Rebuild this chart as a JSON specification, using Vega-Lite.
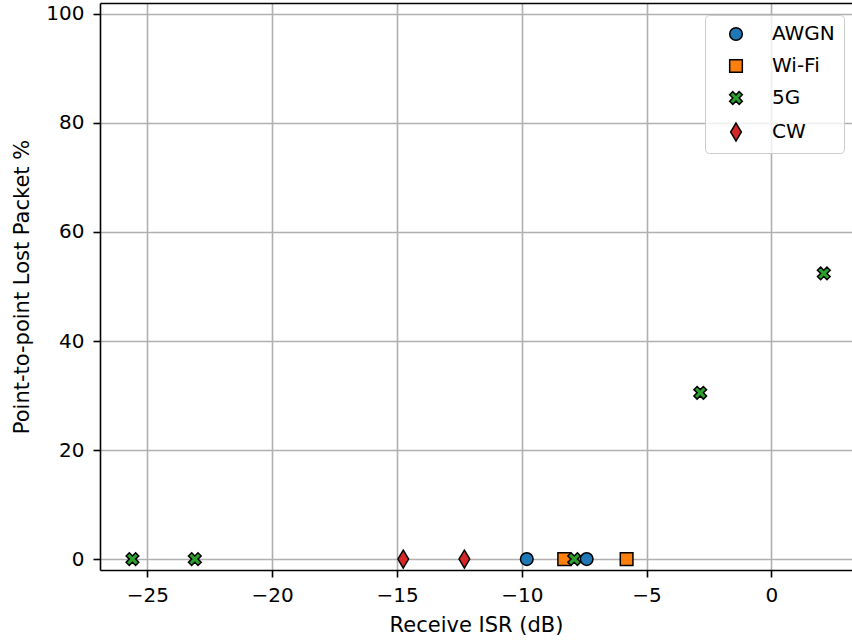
{
  "$schema": "https://vega.github.io/schema/vega-lite/v6.json",
  "width": 752,
  "height": 567,
  "autosize": {"type": "none"},
  "padding": {"left": 100, "top": 3, "right": 0, "bottom": 72},
  "background": "white",
  "config": {
    "view": {"stroke": null},
    "font": "DejaVu Sans",
    "axis": {
      "domainColor": "black",
      "domainWidth": 1.6,
      "tickColor": "black",
      "tickWidth": 1.6,
      "tickSize": 7,
      "labelFont": "DejaVu Sans",
      "labelFontSize": 20,
      "labelColor": "black",
      "labelPadding": 8,
      "titleFont": "DejaVu Sans",
      "titleFontSize": 21,
      "titleFontWeight": "normal",
      "titleColor": "black",
      "gridColor": "#b0b0b0",
      "gridWidth": 1.6
    },
    "axisX": {"titlePadding": 9},
    "axisY": {"titlePadding": 13, "labelPadding": 9},
    "legend": {
      "orient": "none",
      "legendX": 605,
      "legendY": 12,
      "padding": 9,
      "symbolOffset": 12,
      "labelOffset": 26,
      "rowPadding": 12,
      "labelFont": "DejaVu Sans",
      "labelFontSize": 20,
      "labelColor": "black",
      "symbolSize": 160,
      "symbolStrokeColor": "black",
      "symbolStrokeWidth": 1.5,
      "symbolOpacity": 1,
      "strokeColor": "#cccccc",
      "strokeWidth": 1,
      "fillColor": "rgba(255,255,255,0.8)",
      "cornerRadius": 4
    }
  },
  "data": {
    "values": [
      {"signal": "AWGN", "isr": -9.8, "loss": 0},
      {"signal": "AWGN", "isr": -7.4, "loss": 0},
      {"signal": "Wi-Fi", "isr": -8.3, "loss": 0},
      {"signal": "Wi-Fi", "isr": -5.8, "loss": 0},
      {"signal": "5G", "isr": -25.6, "loss": 0},
      {"signal": "5G", "isr": -23.1, "loss": 0},
      {"signal": "5G", "isr": -7.9, "loss": 0},
      {"signal": "5G", "isr": -2.85, "loss": 30.5},
      {"signal": "5G", "isr": 2.1, "loss": 52.4},
      {"signal": "CW", "isr": -14.75, "loss": 0},
      {"signal": "CW", "isr": -12.3, "loss": 0}
    ]
  },
  "layer": [
    {
      "mark": {"type": "point", "filled": true, "stroke": "black", "strokeWidth": 1.5, "opacity": 1, "size": 160},
      "encoding": {
        "x": {
          "field": "isr",
          "type": "quantitative",
          "scale": {"domain": [-26.9, 3.23], "nice": false, "zero": false},
          "axis": {"orient": "bottom", "values": [-25, -20, -15, -10, -5, 0], "title": "Receive ISR (dB)", "grid": true}
        },
        "y": {
          "field": "loss",
          "type": "quantitative",
          "scale": {"domain": [-2, 102], "nice": false, "zero": false},
          "axis": {"values": [0, 20, 40, 60, 80, 100], "title": "Point-to-point Lost Packet %", "grid": true}
        },
        "color": {
          "field": "signal",
          "type": "nominal",
          "scale": {"domain": ["AWGN", "Wi-Fi", "5G", "CW"], "range": ["#1f77b4", "#ff7f0e", "#2ca02c", "#d62728"]},
          "legend": {
            "title": null,
            "symbolStrokeColor": "black",
            "encode": {"symbols": {"update": {"stroke": {"value": "black"}, "strokeWidth": {"value": 1.5}}}}
          }
        },
        "shape": {
          "field": "signal",
          "type": "nominal",
          "scale": {
            "domain": ["AWGN", "Wi-Fi", "5G", "CW"],
            "range": [
              "M1,0A1,1,0,1,1,-1,0A1,1,0,1,1,1,0Z",
              "M-1,-1L1,-1L1,1L-1,1Z",
              "M-0.5,-1L0,-0.5L0.5,-1L1,-0.5L0.5,0L1,0.5L0.5,1L0,0.5L-0.5,1L-1,0.5L-0.5,0L-1,-0.5Z",
              "M0,-1.414L0.849,0L0,1.414L-0.849,0Z"
            ]
          },
          "legend": {
            "title": null,
            "symbolStrokeColor": "black",
            "encode": {"symbols": {"update": {"stroke": {"value": "black"}, "strokeWidth": {"value": 1.5}}}}
          }
        }
      }
    },
    {
      "mark": {"type": "point", "opacity": 0},
      "encoding": {
        "x": {
          "field": "isr",
          "type": "quantitative",
          "axis": {"orient": "top", "grid": false, "ticks": false, "labels": false, "title": null, "domain": true}
        },
        "y": {"field": "loss", "type": "quantitative"}
      }
    }
  ],
  "resolve": {"axis": {"x": "independent"}}
}
